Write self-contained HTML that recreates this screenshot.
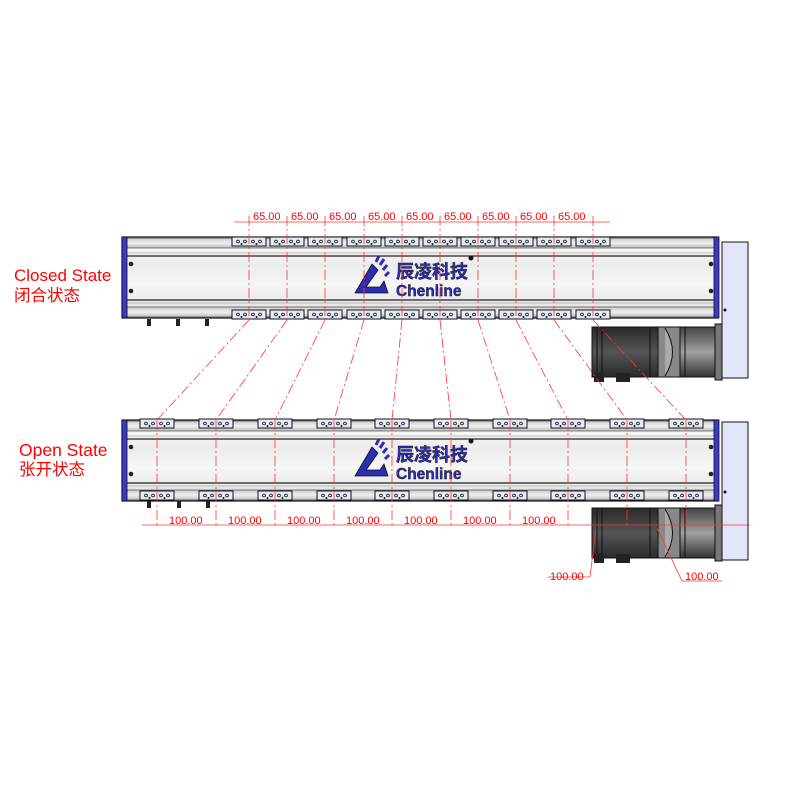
<!DOCTYPE html>
<html><head><meta charset="utf-8"><style>
html,body{margin:0;padding:0;background:#fff;width:800px;height:800px;overflow:hidden}
svg{display:block}
.lbl{font-family:"Liberation Sans","Noto Sans CJK SC",sans-serif;fill:#f00}
.dim{font-family:"Liberation Sans",sans-serif;font-size:11px;fill:#f00}
</style></head><body>
<svg width="800" height="800" viewBox="0 0 800 800" xmlns="http://www.w3.org/2000/svg">
<defs>
<linearGradient id="body" x1="0" y1="0" x2="0" y2="1">
<stop offset="0" stop-color="#fdfdfd"/><stop offset="0.35" stop-color="#ececec"/><stop offset="0.6" stop-color="#f6f6f6"/><stop offset="1" stop-color="#dcdcdc"/></linearGradient>
<linearGradient id="strip" x1="0" y1="0" x2="0" y2="1">
<stop offset="0" stop-color="#c8c8c8"/><stop offset="0.5" stop-color="#f0f0f0"/><stop offset="1" stop-color="#bdbdbd"/></linearGradient>
<linearGradient id="mot" x1="0" y1="0" x2="0" y2="1">
<stop offset="0" stop-color="#2a2a2a"/><stop offset="0.5" stop-color="#555"/><stop offset="1" stop-color="#2a2a2a"/></linearGradient>
<linearGradient id="mot2" x1="0" y1="0" x2="0" y2="1">
<stop offset="0" stop-color="#444"/><stop offset="0.5" stop-color="#a0a0a0"/><stop offset="1" stop-color="#333"/></linearGradient>
<g id="car">
<rect x="-17" y="0" width="34" height="9" fill="#e6eaf4" stroke="#111" stroke-width="1"/>
<circle cx="-11" cy="4.5" r="1.4" fill="none" stroke="#111" stroke-width="0.8"/>
<circle cx="-4" cy="4.5" r="1.4" fill="none" stroke="#111" stroke-width="0.8"/>
<circle cx="4" cy="4.5" r="1.4" fill="none" stroke="#111" stroke-width="0.8"/>
<circle cx="11" cy="4.5" r="1.4" fill="none" stroke="#111" stroke-width="0.8"/>
<circle cx="-7.5" cy="7" r="1" fill="#111"/><circle cx="7.5" cy="7" r="1" fill="#111"/>
</g>
<g id="rail">
<rect x="122" y="0" width="596" height="81" fill="url(#body)" stroke="#111" stroke-width="1.2"/>
<rect x="127" y="1" width="590" height="10" fill="url(#strip)" stroke="#333" stroke-width="0.6"/>
<rect x="127" y="70" width="590" height="10" fill="url(#strip)" stroke="#333" stroke-width="0.6"/>
<line x1="127" y1="19" x2="717" y2="19" stroke="#222" stroke-width="1.2"/>
<line x1="127" y1="63" x2="717" y2="63" stroke="#222" stroke-width="1.2"/>
<line x1="127" y1="16" x2="717" y2="16" stroke="#888" stroke-width="0.6"/>
<line x1="127" y1="66" x2="717" y2="66" stroke="#888" stroke-width="0.6"/>
<rect x="122" y="0" width="5" height="81" fill="#3a3ac8" stroke="#111" stroke-width="0.8"/>
<rect x="714" y="0" width="5" height="81" fill="#3a3ac8" stroke="#111" stroke-width="0.8"/>
<circle cx="131" cy="27" r="2.3" fill="#222"/><circle cx="131" cy="54" r="2.3" fill="#222"/>
<circle cx="711" cy="27" r="2.3" fill="#222"/><circle cx="711" cy="54" r="2.3" fill="#222"/>
<!-- logo -->
<path d="M355 56 L372 27 L378 33 L366 50 L380 50 L384 44 L388 56 Z" fill="#2d2db0" stroke="#111" stroke-width="0.8"/>
<path d="M376 25 l3 -6 M380 28 l4 -6 M383 33 l4 -5 M385 39 l4 -4" stroke="#2d2db0" stroke-width="3"/>
<text x="396" y="41" font-family="'Noto Sans CJK SC',sans-serif" font-weight="bold" font-size="18" fill="#2d2db0" stroke="#111" stroke-width="0.4">辰凌科技</text>
<text x="396" y="59" font-family="'Liberation Sans',sans-serif" font-weight="bold" font-size="15.5" fill="#2d2db0" stroke="#111" stroke-width="0.4">Chenline</text>
<circle cx="471" cy="21" r="2.5" fill="#111"/>
</g>
<g id="motor">
<rect x="592" y="0" width="66" height="50" fill="url(#mot)" stroke="#111"/>
<line x1="597" y1="0" x2="597" y2="50" stroke="#111"/><line x1="602" y1="0" x2="602" y2="50" stroke="#111"/>
<line x1="650" y1="0" x2="650" y2="50" stroke="#111"/>
<rect x="658" y="0" width="22" height="50" fill="#888" stroke="#111"/>
<path d="M665 1 Q680 25 665 49" fill="#aaa" stroke="#111"/>
<rect x="680" y="0" width="35" height="50" fill="url(#mot2)" stroke="#111"/>
<line x1="685" y1="0" x2="685" y2="50" stroke="#111"/>
<rect x="715" y="-3" width="7" height="56" fill="#777" stroke="#111"/>
<rect x="594" y="46" width="10" height="9" fill="#222"/><rect x="616" y="46" width="14" height="9" fill="#222"/>
</g>
</defs>

<!-- labels -->
<text class="lbl" x="14" y="281" font-size="17">Closed State</text>
<text class="lbl" x="14" y="301" font-size="16.5">闭合状态</text>
<text class="lbl" x="19" y="456" font-size="17.5">Open State</text>
<text class="lbl" x="19" y="475" font-size="16.5">张开状态</text>

<!-- closed -->
<rect x="722" y="242" width="26" height="136" fill="#e2e4f8" stroke="#111"/>
<circle cx="725" cy="310" r="1.5" fill="#111"/>
<use href="#rail" y="237"/>
<use href="#motor" y="327"/>
<g fill="#222"><rect x="147" y="319" width="4" height="7"/><rect x="176" y="319" width="4" height="7"/><rect x="205" y="319" width="4" height="7"/></g>
<g>
<use href="#car" x="249" y="237"/><use href="#car" x="287" y="237"/><use href="#car" x="325" y="237"/><use href="#car" x="364" y="237"/><use href="#car" x="402" y="237"/><use href="#car" x="440" y="237"/><use href="#car" x="478" y="237"/><use href="#car" x="516" y="237"/><use href="#car" x="554" y="237"/><use href="#car" x="593" y="237"/>
<use href="#car" x="249" y="310"/><use href="#car" x="287" y="310"/><use href="#car" x="325" y="310"/><use href="#car" x="364" y="310"/><use href="#car" x="402" y="310"/><use href="#car" x="440" y="310"/><use href="#car" x="478" y="310"/><use href="#car" x="516" y="310"/><use href="#car" x="554" y="310"/><use href="#car" x="593" y="310"/>
</g>

<!-- open -->
<rect x="722" y="422" width="26" height="138" fill="#e2e4f8" stroke="#111"/>
<circle cx="725" cy="492" r="1.5" fill="#111"/>
<use href="#rail" y="420"/>
<use href="#motor" y="508"/>
<g fill="#222"><rect x="147" y="501" width="4" height="7"/><rect x="177" y="501" width="4" height="7"/><rect x="206" y="501" width="4" height="7"/></g>
<g>
<use href="#car" x="157" y="419"/><use href="#car" x="216" y="419"/><use href="#car" x="275" y="419"/><use href="#car" x="334" y="419"/><use href="#car" x="392" y="419"/><use href="#car" x="451" y="419"/><use href="#car" x="510" y="419"/><use href="#car" x="568" y="419"/><use href="#car" x="627" y="419"/><use href="#car" x="686" y="419"/>
<use href="#car" x="157" y="491"/><use href="#car" x="216" y="491"/><use href="#car" x="275" y="491"/><use href="#car" x="334" y="491"/><use href="#car" x="392" y="491"/><use href="#car" x="451" y="491"/><use href="#car" x="510" y="491"/><use href="#car" x="568" y="491"/><use href="#car" x="627" y="491"/><use href="#car" x="686" y="491"/>
</g>

<!-- red dimension lines -->
<g stroke="#f33" stroke-width="0.8" fill="none" stroke-dasharray="10,3,2,3">
<path d="M249 216V320 M287 216V320 M325 216V320 M364 216V320 M402 216V320 M440 216V320 M478 216V320 M516 216V320 M554 216V320 M593 216V320"/>
<path d="M249 320L157 420 M287 320L216 420 M325 320L275 420 M364 320L334 420 M402 320L392 420 M440 320L451 420 M478 320L510 420 M516 320L568 420 M554 320L627 420 M593 320L686 420"/>
<path d="M157 420V528 M216 420V528 M275 420V528 M334 420V528 M392 420V528 M451 420V528 M510 420V528 M568 420V528 M627 420V528 M686 420V528"/>
</g>
<g stroke="#f33" stroke-width="0.8" fill="none">
<line x1="234" y1="222" x2="610" y2="222"/>
<line x1="142" y1="525" x2="750" y2="525"/>
<path d="M596 528 L590 577 L548 577"/>
<path d="M657 528 L682 581 L722 581"/>
</g>
<text class="dim" x="253" y="220">65.00</text><text class="dim" x="291" y="220">65.00</text><text class="dim" x="329" y="220">65.00</text><text class="dim" x="368" y="220">65.00</text><text class="dim" x="406" y="220">65.00</text><text class="dim" x="444" y="220">65.00</text><text class="dim" x="482" y="220">65.00</text><text class="dim" x="520" y="220">65.00</text><text class="dim" x="558" y="220">65.00</text>
<text class="dim" x="169" y="524">100.00</text><text class="dim" x="228" y="524">100.00</text><text class="dim" x="287" y="524">100.00</text><text class="dim" x="346" y="524">100.00</text><text class="dim" x="404" y="524">100.00</text><text class="dim" x="463" y="524">100.00</text><text class="dim" x="522" y="524">100.00</text>
<text class="dim" x="550" y="580">100.00</text><text class="dim" x="685" y="580">100.00</text>
</svg>
</body></html>
